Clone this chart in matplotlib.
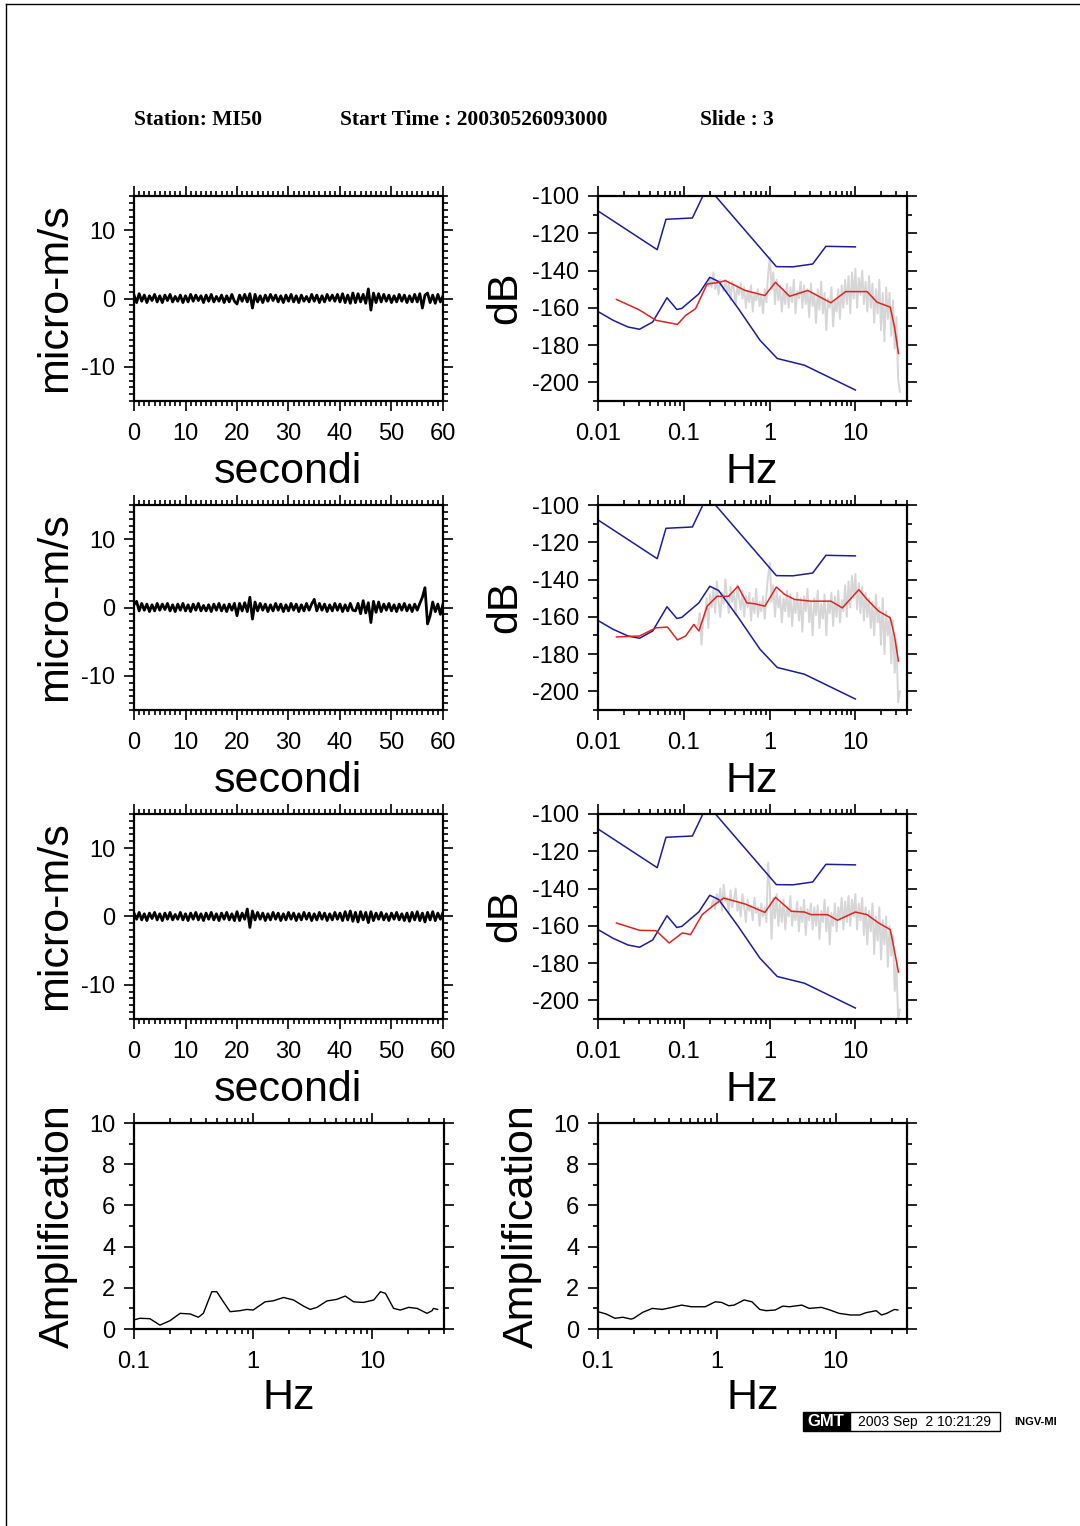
import numpy as np
import matplotlib
matplotlib.use('Agg')
import matplotlib.pyplot as plt
from matplotlib.ticker import MultipleLocator, FixedLocator, LogLocator, NullFormatter, FuncFormatter
from matplotlib.patches import Rectangle
from matplotlib.lines import Line2D

plt.rcParams['font.family'] = ['Liberation Sans', 'DejaVu Sans']
plt.rcParams['axes.unicode_minus'] = False

nan = np.nan

# Velocity traces (tenths of micro-m/s), one sample every 0.5 s
trace1 = [5, -6, 7, -4, 5, -6, 4, -3, 6, -5, 4, -6, 5, -3, 6, -5, 3, -4, 5, -6,
          4, -5, 6, -4, 5, -3, 4, -6, 5, -4, 6, -5, 3, -4, 5, -6, 4, -5, 6, -4,
          -8, 5, -4, 6, -5, 7, -14, 6, -5, 4, -6, 5, -4, 6, -3, 5, -5, 4, -6, 5,
          -4, 6, -5, 4, -6, 5, -4, 3, -5, 6, -4, 5, -6, 4, -5, 6, -3, 5, -4, 6,
          -5, 7, -6, 5, -7, 8, -6, 7, -5, 6, -7, 14, -17, 8, -6, 7, -5, 6, -4, 5,
          -6, 4, -5, 6, -4, 5, -6, 4, -5, 6, -5, 7, -14, 5, 8, -6, 5, -7, 6, -5, 4]
trace2 = [4, 9, -5, 6, -4, 5, -6, 4, -5, 6, -4, 5, -3, 6, -5, 4, -6, 5, -4, 6,
          -5, 4, -6, 5, -4, 6, -5, 3, -5, 4, -6, 5, -4, 6, -5, 4, -6, 5, -4, 6,
          -12, 6, -5, 7, -6, 15, -17, 8, -5, 6, -4, 5, -6, 4, -5, 6, -4, 5, -6, 4,
          -5, 6, -4, 5, -6, 4, -5, 6, -4, 5, 12, -5, 6, -4, 5, -6, 4, -5, 6, -4,
          5, -6, 4, -5, 6, -4, -5, 6, -9, 10, -8, 7, -22, 9, -7, 8, -6, 5, -4, 6,
          -5, 4, -6, 5, -4, 6, -5, 4, -6, 5, -4, 6, 15, 29, -24, -12, 8, -6, 5, -10, 5]
trace3 = [5, -4, 6, -5, 4, -6, 5, -3, 6, -5, 4, -6, 5, -4, 6, -5, 3, -4, 6, -5,
          4, -6, 5, -4, 6, -5, 4, -6, 5, -4, 6, -5, 4, -6, 5, -4, 6, -5, 4, -6,
          7, -6, 5, -4, 11, -16, 8, -5, 6, -4, 5, -6, 4, -5, 6, -4, 5, -6, 4, -5,
          6, -4, 5, -6, 4, -5, 6, -4, 5, -6, 4, -5, 6, -4, 5, -6, 4, -5, 6, -4,
          5, -6, 7, -5, 8, -7, 6, -8, 7, -5, 6, -9, 7, -6, 5, -4, 6, -5, 4, -6,
          5, -4, 6, -5, 4, -6, 5, -7, 6, -5, 7, -6, 5, -8, 6, -5, 7, -6, 5, -4, 6]

# Raw spectra (dB), on a log-spaced frequency grid 0.14 - 33 Hz
gray1 = [nan, nan, nan, nan, nan, nan, nan, -148, -144, -149,
         -141, -150, -146, -153, -145, -148, -151, -145, -152, -147,
         -156, -146, -150, -158, -148, -153, -147, -155, -149, -160,
         -151, -157, -148, -162, -152, -156, -150, -159, -153, -163,
         -150, -157, -142, -133, -150, -141, -158, -145, -156, -148,
         -162, -150, -158, -147, -160, -149, -157, -145, -163, -151,
         -155, -146, -160, -148, -158, -150, -165, -147, -159, -153,
         -168, -150, -161, -146, -163, -152, -172, -155, -160, -149,
         -170, -156, -162, -150, -166, -148, -160, -145, -158, -143,
         -163, -141, -155, -139, -160, -144, -153, -140, -158, -146,
         -162, -143, -160, -147, -168, -150, -163, -145, -172, -152,
         -178, -149, -166, -152, -175, -156, -182, -165, -198, -205]
gray2 = [nan, -165, -158, -175, -162, -160, -150, -166, -148, -155,
         -145, -158, -141, -152, -160, -147, -153, -140, -150, -158,
         -144, -152, -147, -159, -143, -150, -156, -146, -160, -149,
         -155, -147, -162, -150, -158, -145, -160, -152, -157, -149,
         -161, -148, -138, -131, -152, -143, -160, -146, -155, -149,
         -163, -150, -157, -146, -160, -148, -165, -151, -158, -147,
         -162, -150, -168, -149, -157, -145, -163, -152, -170, -150,
         -159, -146, -166, -153, -161, -148, -170, -152, -158, -147,
         -165, -149, -160, -146, -163, -151, -157, -143, -160, -141,
         -155, -138, -150, -137, -156, -142, -158, -144, -162, -147,
         -160, -150, -166, -152, -170, -148, -163, -155, -175, -150,
         -180, -157, -170, -160, -185, -162, -190, -172, -206, -200]
gray3 = [nan, nan, nan, nan, nan, nan, nan, nan, nan, -149,
         -146, -151, -143, -148, -140, -152, -138, -147, -145, -153,
         -141, -150, -146, -140, -152, -148, -155, -143, -150, -158,
         -146, -152, -149, -157, -145, -153, -150, -160, -148, -155,
         -150, -158, -126, -140, -167, -145, -156, -143, -160, -148,
         -158, -146, -162, -150, -155, -144, -160, -152, -157, -147,
         -163, -150, -158, -146, -165, -151, -157, -148, -162, -150,
         -160, -149, -167, -152, -158, -146, -163, -150, -170, -153,
         -160, -148, -163, -150, -157, -145, -162, -147, -158, -144,
         -160, -146, -155, -143, -162, -148, -157, -145, -165, -150,
         -170, -152, -163, -148, -175, -155, -168, -150, -178, -157,
         -170, -155, -182, -160, -176, -165, -195, -180, -210, -205]

# Smoothed spectra (red)
red1_f = [0.0164, 0.03, 0.0475, 0.0843, 0.105, 0.137, 0.187, 0.255, 0.305, 0.519, 0.883,
          1.17, 1.71, 2.79, 5.18, 7.71, 13.7, 17.9, 25.5, 28.6, 31.8]
red1_db = [-155.5, -161, -166.7, -168.9, -164.1, -160.5, -147.2, -146.4, -145.4, -150.7, -153.4,
           -146.3, -153.8, -150.7, -157.3, -151.3, -151.3, -157, -159.6, -170.3, -184.5]
red2_f = [0.0164, 0.0305, 0.0475, 0.0647, 0.0843, 0.105, 0.131, 0.15, 0.187, 0.244, 0.333,
          0.427, 0.542, 0.676, 0.883, 1.2, 1.5, 1.96, 3.05, 5.18, 7.06, 11, 13.7, 18.7,
          25.5, 28.6, 31.8]
red2_db = [-170.8, -170.3, -165.9, -165.5, -172.4, -170.3, -164.1, -167.6, -154.3, -149, -149,
           -143.6, -152.5, -153, -154.3, -144, -148, -150.7, -151.6, -151.6, -155.2, -145.4,
           -150.7, -157, -160.5, -170.3, -183.7]
red3_f = [0.0164, 0.0305, 0.0475, 0.0676, 0.0964, 0.12, 0.164, 0.214, 0.292, 0.519, 0.883,
          1.17, 1.79, 2.55, 3.05, 4.74, 6.18, 10, 13.7, 18.7, 25.5, 27.9, 31.8]
red3_db = [-158.5, -162.4, -162.6, -169.2, -163.8, -164.7, -154, -149.6, -145.1, -148.3, -152.8,
           -144.7, -152.2, -152.6, -154, -154, -157, -152.6, -154, -158.5, -162, -170.9, -184.8]

# Noise models (blue)
nhnm_f = [0.01, 0.049, 0.062, 0.126, 0.167, 0.234, 1.2, 1.87, 3.18, 4.54, 10]
nhnm_db = [-108, -128.8, -112.5, -111.8, -100, -100, -137.9, -138, -136.5, -127, -127.3]
nlnm_f = [0.01, 0.015, 0.0224, 0.0305, 0.0434, 0.0637, 0.083, 0.0948, 0.15, 0.201, 0.255,
          0.434, 0.773, 1.23, 2.55, 10]
nlnm_db = [-162, -166.7, -170.3, -171.5, -167.6, -154.6, -160.9, -160.3, -152.5, -143.6, -145.9,
           -160.5, -177.4, -187.2, -190.8, -204.1]

# Amplification (H/V)
ampl_f = [0.1, 0.112, 0.136, 0.165, 0.2, 0.244, 0.296, 0.347, 0.382, 0.45, 0.495, 0.563, 0.641,
          0.778, 0.885, 1.0, 1.26, 1.48, 1.8, 2.18, 2.65, 3.01, 3.43, 4.16, 5.05, 5.93, 6.96,
          8.45, 10.3, 11.7, 12.9, 15.1, 17.2, 20.2, 23.8, 28.8, 31.8, 32.6, 35.4]
ampl = [0.44, 0.52, 0.5, 0.19, 0.4, 0.76, 0.73, 0.57, 0.76, 1.81, 1.81, 1.32, 0.84,
        0.89, 0.95, 0.92, 1.32, 1.37, 1.53, 1.41, 1.11, 0.95, 1.05, 1.36, 1.44, 1.6, 1.32,
        1.29, 1.41, 1.81, 1.73, 1.0, 0.92, 1.05, 1.0, 0.76, 0.89, 1.0, 0.95]
ampr_f = [0.1, 0.117, 0.139, 0.162, 0.19, 0.2, 0.238, 0.287, 0.348, 0.42, 0.507, 0.612, 0.8,
          0.97, 1.1, 1.26, 1.4, 1.7, 1.98, 2.3, 2.6, 3.1, 3.6, 4.1, 5.2, 6.0, 7.6, 9.0,
          10.7, 13.4, 16, 18, 22, 24.4, 27, 31.4, 33.5]
ampr = [0.84, 0.73, 0.52, 0.57, 0.48, 0.52, 0.81, 1.0, 0.95, 1.05, 1.16, 1.08, 1.08,
        1.32, 1.29, 1.13, 1.16, 1.41, 1.32, 0.95, 0.89, 0.92, 1.11, 1.08, 1.16, 1.0, 1.05, 0.92,
        0.76, 0.68, 0.68, 0.79, 0.89, 0.68, 0.76, 0.95, 0.92]

traces = [trace1, trace2, trace3]
grays = [gray1, gray2, gray3]
reds = [(red1_f, red1_db), (red2_f, red2_db), (red3_f, red3_db)]
time = np.arange(len(trace1)) * 0.5
gray_f = np.geomspace(0.14, 33, len(gray1))

W, H = 1080, 1526
fig = plt.figure(figsize=(W / 100, H / 100), dpi=100)


def box(l, t, r, b):
    return [l / W, 1 - b / H, (r - l) / W, (b - t) / H]


def ftext(x, y, s, **kw):
    fig.text(x / W, 1 - y / H, s, **kw)


def frame(ax):
    for s in ax.spines.values():
        s.set_linewidth(1.6)
    ax.tick_params(which='both', direction='out', top=True, right=True,
                   labelsize=17, width=1.2, pad=6)
    ax.tick_params(axis='x', which='both', pad=8)
    ax.tick_params(which='major', length=7.5)
    ax.tick_params(which='minor', length=3.6)


def log_ticks(ax, majors):
    ax.xaxis.set_major_locator(FixedLocator(majors))
    ax.xaxis.set_major_formatter(FuncFormatter(lambda v, p: '%g' % v))
    ax.xaxis.set_minor_locator(LogLocator(base=10, subs=range(2, 10), numticks=20))
    ax.xaxis.set_minor_formatter(NullFormatter())


label_kw = dict(fontsize=31, ha='center', va='center')
tops = [196, 505, 814]
for k, top in enumerate(tops):
    # seismogram
    ax = fig.add_axes(box(134, top, 443, top + 205))
    ax.plot(time, np.array(traces[k]) / 10, color='black', lw=2.0)
    ax.set_xlim(0, 60)
    ax.set_ylim(-15, 15)
    ax.xaxis.set_major_locator(MultipleLocator(10))
    ax.xaxis.set_minor_locator(MultipleLocator(1))
    ax.yaxis.set_major_locator(FixedLocator([-10, 0, 10]))
    ax.yaxis.set_minor_locator(MultipleLocator(1))
    frame(ax)
    ftext(288, top + 276, 'secondi', **label_kw)
    ftext(55, top + 102, 'micro-m/s', rotation=90, **label_kw)

    # spectrum
    ax = fig.add_axes(box(598, top, 907, top + 205))
    ax.plot(gray_f, grays[k], color='#d6d6d6', lw=1.4)
    ax.plot(nhnm_f, nhnm_db, color='#1c1c9c', lw=1.1)
    ax.plot(nlnm_f, nlnm_db, color='#1c1c9c', lw=1.1)
    ax.plot(reds[k][0], reds[k][1], color='#e0231f', lw=1.1)
    ax.set_xscale('log')
    ax.set_xlim(0.01, 40)
    ax.set_ylim(-210, -100)
    log_ticks(ax, [0.01, 0.1, 1, 10])
    ax.yaxis.set_major_locator(MultipleLocator(20))
    ax.yaxis.set_minor_locator(MultipleLocator(10))
    frame(ax)
    ftext(752, top + 276, 'Hz', **label_kw)
    ftext(505, top + 102, 'dB', rotation=90, **label_kw)

# amplification panels
for x0, x1, f, a, lab_x in [(134, 444, ampl_f, ampl, 58), (598, 907, ampr_f, ampr, 522)]:
    ax = fig.add_axes(box(x0, 1123, x1, 1329))
    ax.plot(f, a, color='black', lw=1.0)
    ax.set_xscale('log')
    ax.set_xlim(0.1, 40)
    ax.set_ylim(0, 10)
    log_ticks(ax, [0.1, 1, 10])
    ax.yaxis.set_major_locator(MultipleLocator(2))
    ax.yaxis.set_minor_locator(MultipleLocator(1))
    frame(ax)
    ftext((x0 + x1) / 2, 1398, 'Hz', **label_kw)
    ftext(lab_x, 1226, 'Amplification', rotation=90, **label_kw)

# header
head_kw = dict(fontsize=15.5, fontweight='bold', family='Liberation Serif', va='center', ha='left')
ftext(134, 120, 'Station: MI50', **head_kw)
ftext(340, 120, 'Start Time : 20030526093000', **head_kw)
ftext(700, 120, 'Slide : 3', **head_kw)

# page border (top and left)
fig.add_artist(Line2D([6 / W, 1], [1 - 4 / H, 1 - 4 / H], color='black', lw=1.0, transform=fig.transFigure))
fig.add_artist(Line2D([6 / W, 6 / W], [1 - 4 / H, 0], color='black', lw=1.0, transform=fig.transFigure))

# GMT time stamp
fig.add_artist(Rectangle((803 / W, 1 - 1431 / H), 47 / W, 19 / H, facecolor='black',
                         edgecolor='black', lw=1, transform=fig.transFigure))
fig.add_artist(Rectangle((850 / W, 1 - 1431 / H), 150 / W, 19 / H, facecolor='white',
                         edgecolor='black', lw=1, transform=fig.transFigure))
ftext(826, 1422, 'GMT', color='white', fontsize=12, fontweight='bold', ha='center', va='center')
ftext(925, 1422, '2003 Sep  2 10:21:29', fontsize=10, ha='center', va='center')
ftext(1014, 1422, 'INGV-MI', fontsize=8, fontweight='bold', ha='left', va='center')

fig.savefig('out.png', dpi=100, facecolor='white')
